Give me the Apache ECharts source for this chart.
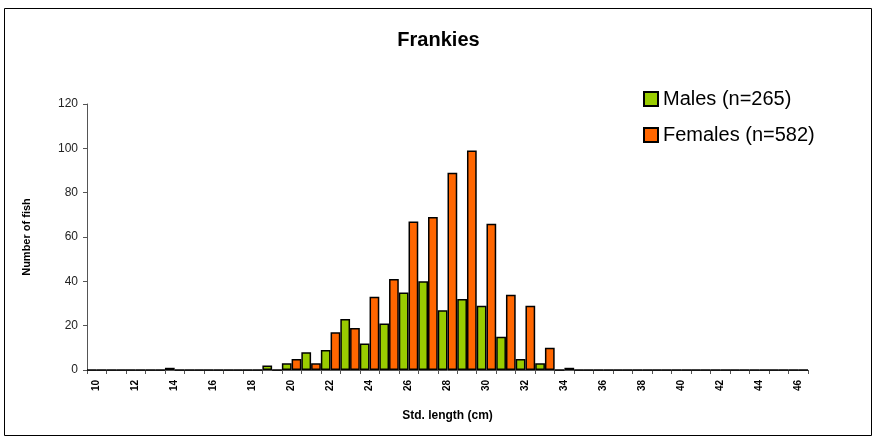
<!DOCTYPE html>
<html>
<head>
<meta charset="utf-8">
<script src="https://cdn.jsdelivr.net/npm/echarts@6/dist/echarts.min.js"></script>
<style>html,body{margin:0;padding:0;background:#fff}#c{width:877px;height:444px}</style>
</head>
<body>
<div id="c"></div>
<script>
var categories = [];
for (var L = 10; L <= 46; L++) categories.push(String(L));
var males =   [0,0,0,0,1,0,0,0,0,2,3,8,9,23,12,21,35,40,27,32,29,15,5,3,0,0,0,0,0,0,0,0,0,0,0,0,0];
var females = [0,0,0,0,0,0,0,0,0,0,5,3,17,19,33,41,67,69,89,99,66,34,29,10,1,0,0,0,0,0,0,0,0,0,0,0,0];
var yTicks = [0,20,40,60,80,100,120];
var seriesNames = ['Males (n=265)', 'Females (n=582)'];

var chart = echarts.init(document.getElementById('c'), null, {renderer: 'canvas'});
var font = 'Liberation Sans, Arial, sans-serif';
chart.setOption({
  animation: false,
  backgroundColor: '#fff',
  textStyle: {fontFamily: font},
  graphic: [{type: 'rect', shape: {x: 4.5, y: 8.5, width: 867, height: 427}, style: {fill: 'none', stroke: '#000', lineWidth: 1}, silent: true}],
  title: {text: 'Frankies', left: 'center', top: 25, textStyle: {fontFamily: font, fontSize: 20, fontWeight: 'bold', color: '#000'}},
  legend: {
    orient: 'vertical', left: 638, top: 84, itemGap: 16, itemWidth: 14, itemHeight: 14,
    icon: 'rect',
    textStyle: {fontFamily: font, fontSize: 20, color: '#000'},
    data: seriesNames
  },
  grid: {left: 87, right: 69, top: 104, bottom: 74},
  xAxis: {
    type: 'category', data: categories, boundaryGap: true,
    name: 'Std. length (cm)', nameLocation: 'middle', nameGap: 40,
    nameTextStyle: {fontFamily: font, fontSize: 12, fontWeight: 'bold', color: '#000'},
    axisLine: {lineStyle: {color: '#555', width: 1}},
    axisTick: {show: true, interval: 0, length: 4, lineStyle: {color: '#555'}},
    axisLabel: {interval: 1, rotate: 90, margin: 10, fontSize: 10, fontWeight: 'bold', color: '#000', fontFamily: font}
  },
  yAxis: {
    type: 'value', min: 0, max: 120, interval: 20,
    name: 'Number of fish', nameLocation: 'middle', nameGap: 55, nameRotate: 90,
    nameTextStyle: {fontFamily: font, fontSize: 11, fontWeight: 'bold', color: '#000'},
    axisLine: {show: true, lineStyle: {color: '#555', width: 1}},
    axisTick: {show: true, length: 4, inside: false, lineStyle: {color: '#555'}},
    splitLine: {show: false},
    axisLabel: {margin: 9, fontSize: 12, color: '#222', fontFamily: font,
      formatter: function (v) { return yTicks.indexOf(v) >= 0 ? String(v) : ''; }}
  },
  series: [
    {name: seriesNames[0], type: 'bar', data: males, barGap: '0%', barCategoryGap: '0%',
     itemStyle: {color: '#99CC00', borderColor: '#000', borderWidth: 1.5}},
    {name: seriesNames[1], type: 'bar', data: females, barGap: '0%', barCategoryGap: '0%',
     itemStyle: {color: '#FF6600', borderColor: '#000', borderWidth: 1.5}}
  ]
});
</script>
</body>
</html>
